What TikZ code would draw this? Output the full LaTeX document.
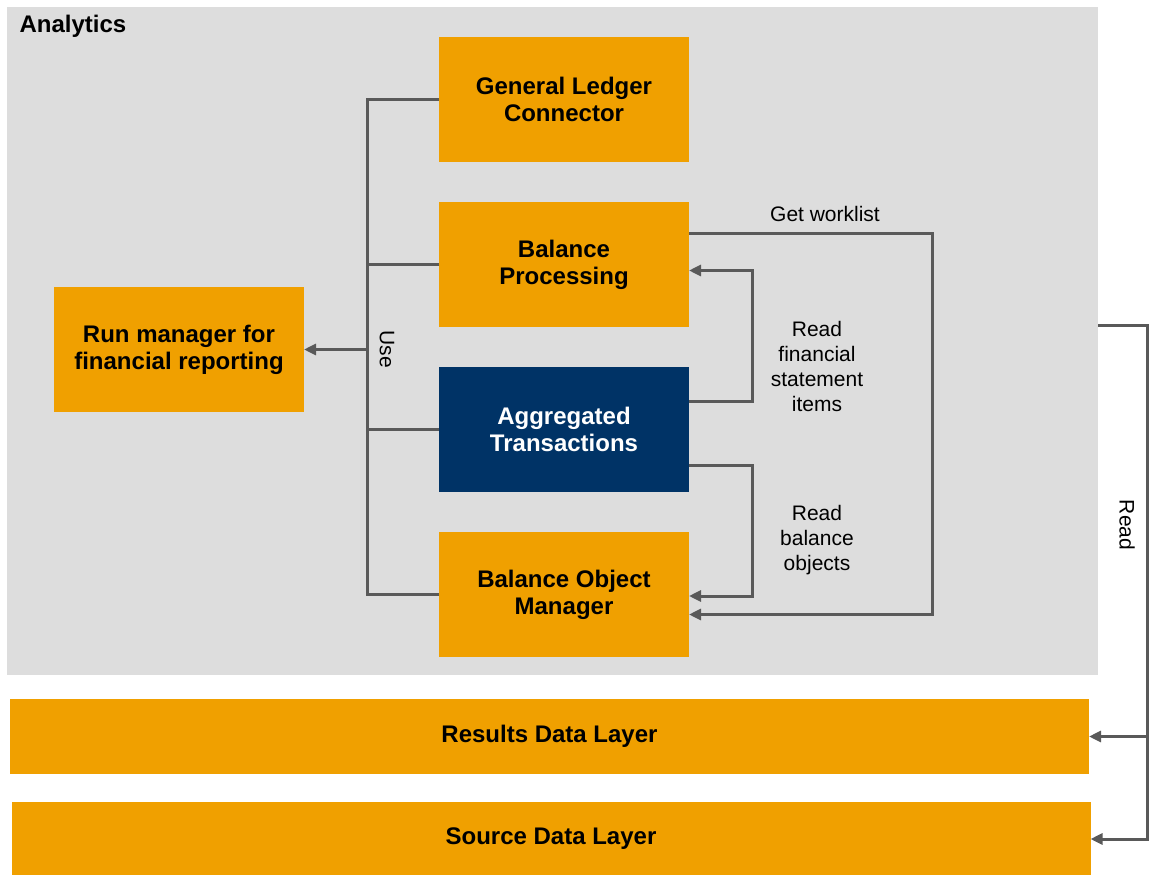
\documentclass[tikz,border=0pt]{standalone}
\usepackage{fontspec}
\setmainfont{Liberation Sans}
\usetikzlibrary{positioning,arrows.meta,calc}
\usepackage{xcolor}
\definecolor{saporange}{HTML}{F0A000}
\definecolor{sapnavy}{HTML}{003366}
\definecolor{panelgray}{HTML}{DDDDDD}
\definecolor{linegray}{HTML}{595959}

\begin{document}
\begin{tikzpicture}[
            x=1pt, y=-1pt,
            node distance=40pt and 40pt,
            every node/.style={font=\fontsize{24}{27}\selectfont\bfseries},
            block/.style={fill=saporange, minimum width=250pt, minimum height=125pt, inner sep=0pt, outer sep=0pt, align=center},
            darkblock/.style={block, fill=sapnavy, text=white},
            layer/.style={fill=saporange, minimum width=1079pt, minimum height=75pt, inner sep=0pt, outer sep=0pt},
            panel/.style={fill=panelgray, minimum width=1091pt, minimum height=668pt, inner sep=0pt, outer sep=0pt},
            lbl/.style={font=\fontsize{21}{25}\selectfont, align=center},
            line/.style={draw=linegray, line width=3pt},
            arrow/.style={line, -{Triangle[length=12pt, width=11pt]}}
        ]
            \useasboundingbox (0,0) rectangle (1149,875);

            % Analytics panel
            \node[panel, anchor=north west] (analytics) at (7,7) {};
            \node[anchor=west] (title) at (16,26) {Analytics};

            % Components
            \node[block] (glc) at (564,99.5) {General Ledger\\Connector};
            \node[block, below=of glc] (bp) {Balance\\Processing};
            \node[darkblock, below=of bp] (at) {Aggregated\\Transactions};
            \node[block, below=of at] (bom) {Balance Object\\Manager};

            % Run manager
            \node[block] (run) at (179,349.5) {Run manager for\\financial reporting};

            % Data layers
            \node[layer] (results) at (549.5,736.5) {Results Data Layer};
            \node[layer, below=28pt of results, xshift=1.5pt, minimum height=74pt] (source) {Source Data Layer};

            % Use bus
            \coordinate (bus) at ([xshift=-72pt]glc.west);
            \draw[line] (glc.west) -- (bus) |- (bom.west);
            \draw[line] (bp.west) -- (bp.west -| bus);
            \draw[line] (at.west) -- (at.west -| bus);
            \draw[arrow] (run.east -| bus) -- (run.east);
            \node[lbl, rotate=-90] (use) at ([xshift=20pt]run.east -| bus) {Use};

            % Get worklist
            \coordinate (wl) at (932,0);
            \draw[arrow] ([yshift=31pt]bp.east) -- ([yshift=31pt]bp.east -| wl) |- ([yshift=-20pt]bom.east);
            \node[lbl] (getwl) at (825,214) {Get worklist};

            % Read financial statement items
            \coordinate (rd) at (752,0);
            \draw[arrow] ([yshift=28pt]at.east) -| ([yshift=-6pt]bp.east -| rd) -- ([yshift=-6pt]bp.east);
            \node[lbl] (rfsi) at (817,366) {Read\\financial\\statement\\items};

            % Read balance objects
            \draw[arrow] ([yshift=-35.5pt]at.east) -| ([yshift=-1.5pt]bom.east -| rd) -- ([yshift=-1.5pt]bom.east);
            \node[lbl] (rbo) at (817,540) {Read\\balance\\objects};

            % Read from data layers
            \coordinate (rl) at (1147,0);
            \draw[arrow] ([yshift=16pt]analytics.east) -| (source.east -| rl) -- (source.east);
            \draw[arrow] (results.east -| rl) -- (results.east);
            \node[lbl, rotate=-90] (read) at (1127,525) {Read};

        \end{tikzpicture}
\end{document}
